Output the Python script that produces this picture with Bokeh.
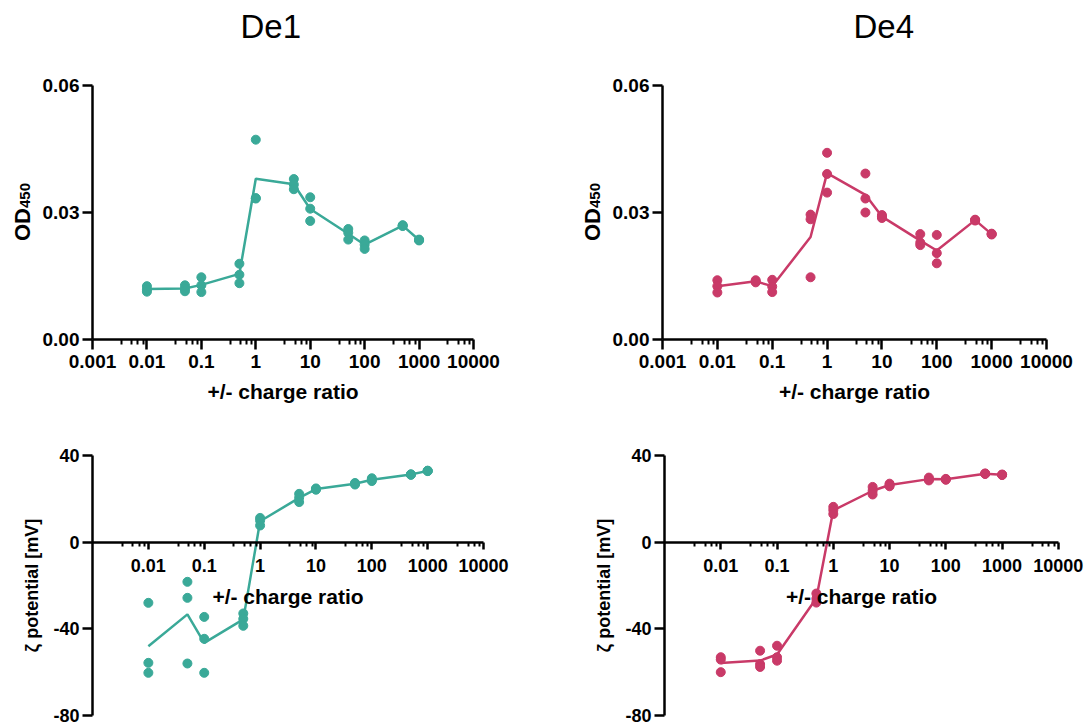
import math
import numpy as np
from bokeh.plotting import figure
from bokeh.models import Range1d, FixedTicker, CustomJSTickFormatter, PrintfTickFormatter, Title, Label
from bokeh.layouts import column, row
from bokeh.embed import file_html
from bokeh.resources import INLINE

# ---------------- data ----------------
ratio = [0.01, 0.05, 0.1, 0.5, 1, 5, 10, 50, 100, 500, 1000]

de1_od = [
    [0.0126, 0.0118, 0.0113],
    [0.0128, 0.0120, 0.0114],
    [0.0147, 0.0128, 0.0112],
    [0.0179, 0.0153, 0.0133],
    [0.0472, 0.0334, 0.0333],
    [0.0379, 0.0366, 0.0355],
    [0.0336, 0.0309, 0.0280],
    [0.0261, 0.0252, 0.0236],
    [0.0234, 0.0224, 0.0214],
    [0.0270, 0.0269, 0.0268],
    [0.0236, 0.0235, 0.0234],
]
de4_od = [
    [0.0140, 0.0126, 0.0111],
    [0.0140, 0.0137, 0.0135],
    [0.0141, 0.0125, 0.0112],
    [0.0295, 0.0284, 0.0147],
    [0.0441, 0.0391, 0.0347],
    [0.0392, 0.0333, 0.0300],
    [0.0294, 0.0290, 0.0287],
    [0.0249, 0.0229, 0.0223],
    [0.0247, 0.0204, 0.0180],
    [0.0283, 0.0282, 0.0281],
    [0.0250, 0.0249, 0.0248],
]
de1_zeta = [
    [-28.0, -55.7, -60.3],
    [-18.3, -25.7, -56.0],
    [-34.5, -44.6, -60.3],
    [-32.9, -35.4, -38.6],
    [11.2, 10.0, 7.7],
    [22.3, 20.5, 18.5],
    [24.8, 24.5, 24.2],
    [27.3, 27.0, 26.6],
    [29.5, 28.8, 28.2],
    [31.3, 31.2, 31.1],
    [33.0, 32.9, 32.8],
]
de4_zeta = [
    [-53.1, -54.2, -60.0],
    [-50.1, -56.3, -57.6],
    [-47.8, -53.1, -54.7],
    [-23.7, -26.1, -27.9],
    [16.3, 14.8, 13.0],
    [25.5, 23.7, 22.0],
    [27.0, 26.4, 25.8],
    [29.8, 29.0, 28.5],
    [29.2, 29.0, 28.8],
    [31.7, 31.6, 31.5],
    [31.2, 31.1, 31.0],
]

x_ticks_top = [0.001, 0.01, 0.1, 1, 10, 100, 1000, 10000]
x_ticks_bottom = [0.01, 0.1, 1, 10, 100, 1000, 10000]
od_ticks = [0, 0.03, 0.06]
zeta_ticks = [-80, -40, 0, 40]

TEAL = "#3aa998"
RED = "#c93a68"
FONT = "Liberation Sans"

minor = [m * 10.0 ** d for d in range(-3, 4) for m in (3.4, 5.3, 6.8, 8.5)]


def style_axes(p, tick_size):
    for ax in (p.xaxis, p.yaxis):
        ax.axis_line_width = 2.5
        ax.axis_line_color = "black"
        ax.major_tick_line_width = 2.5
        ax.major_tick_line_color = "black"
        ax.minor_tick_line_width = 2
        ax.minor_tick_line_color = "black"
        ax.major_tick_in = 0
        ax.major_tick_out = 10
        ax.minor_tick_in = 0
        ax.minor_tick_out = 5
        ax.major_label_text_font = FONT
        ax.major_label_text_font_style = "bold"
        ax.major_label_text_font_size = tick_size
        ax.major_label_text_color = "black"
        ax.axis_label_text_font = FONT
        ax.axis_label_text_font_style = "bold"
        ax.axis_label_text_color = "black"
    p.yaxis.minor_tick_line_color = None
    p.yaxis.major_label_standoff = 3
    p.xaxis.major_label_standoff = 5
    p.xaxis.axis_label_standoff = 9
    p.yaxis.axis_label_standoff = 8


def make(width, height, xr, yr, bl, br, bt, bb, title=None, title_offset=0):
    kw = {}
    if title:
        kw["title"] = title
    p = figure(width=width, height=height, x_axis_type="log",
               x_range=Range1d(*xr), y_range=Range1d(*yr),
               output_backend="svg", toolbar_location=None,
               min_border_left=bl, min_border_right=br,
               min_border_top=bt, min_border_bottom=bb, **kw)
    p.outline_line_color = None
    p.grid.visible = False
    p.background_fill_color = "white"
    p.border_fill_color = "white"
    if title:
        p.title.text_font = FONT
        p.title.text_font_style = "normal"
        p.title.text_font_size = "33px"
        p.title.text_color = "black"
        p.title.align = "left"
        p.title.offset = title_offset
        p.title.standoff = 0
        # blank spacer between the frame and the title
        p.add_layout(Title(text=" ", text_font_size="1px", standoff=38), "above")
    return p


def add_data(p, data, color):
    xs = np.repeat(ratio, [len(r) for r in data])
    ys = np.concatenate([np.array(r) for r in data])
    means = [float(np.mean(r)) for r in data]
    p.line(ratio, means, line_color=color, line_width=2.5)
    p.scatter(xs, ys, size=9, fill_color=color, line_color=color)


def od_panel(width, bl, br, title, off, data, color):
    p = make(width, 420, (0.001, 10000), (0, 0.06), bl, br, 85, 81, title, off)
    add_data(p, data, color)
    style_axes(p, "19px")
    p.xaxis.ticker = FixedTicker(ticks=x_ticks_top, minor_ticks=minor)
    p.xaxis.formatter = CustomJSTickFormatter(code="return tick.toString();")
    p.yaxis.ticker = FixedTicker(ticks=od_ticks)
    p.yaxis.formatter = PrintfTickFormatter(format="%.2f")
    p.xaxis.axis_label = "+/- charge ratio"
    p.xaxis.axis_label_text_font_size = "21px"
    # y title: "OD" with subscript "450"
    p.add_layout(Label(x=8, y=115, x_units="screen", y_units="screen",
                       text="OD", angle=math.pi / 2,
                       text_align="center", text_baseline="middle",
                       text_font=FONT, text_font_style="bold",
                       text_font_size="22px", text_color="black"), "left")
    p.add_layout(Label(x=20.5, y=144, x_units="screen", y_units="screen",
                       text="450", angle=math.pi / 2,
                       text_align="center", text_baseline="middle",
                       text_font=FONT, text_font_style="bold",
                       text_font_size="15px", text_color="black"), "left")
    return p


def zeta_panel(width, bl, br, data, color):
    p = make(width, 306, (0.001, 10 ** 4.5), (-80, 40), bl, br, 35, 11)
    add_data(p, data, color)
    style_axes(p, "18px")
    p.xaxis.fixed_location = 0
    p.xaxis.bounds = (0.001, 10000)
    p.xaxis.major_tick_out = 7
    p.xaxis.minor_tick_out = 4
    p.xaxis.major_label_standoff = 10
    p.xaxis.ticker = FixedTicker(ticks=x_ticks_bottom, minor_ticks=minor)
    p.xaxis.formatter = CustomJSTickFormatter(code="return tick.toString();")
    p.yaxis.ticker = FixedTicker(ticks=zeta_ticks)
    p.yaxis.formatter = PrintfTickFormatter(format="%d")
    p.xaxis.axis_label = "+/- charge ratio"
    p.yaxis.axis_label = "\u03b6 potential [mV]"
    p.xaxis.axis_label_text_font_size = "21px"
    p.yaxis.axis_label_text_font_size = "18px"
    return p


p1 = od_panel(560, 92, 87, "De1", 148, de1_od, TEAL)
p2 = od_panel(528, 102, 42, "De4", 191, de4_od, RED)
p3 = zeta_panel(560, 92, 49, de1_zeta, TEAL)
p4 = zeta_panel(528, 104, 2, de4_zeta, RED)

layout = column(row(p1, p2), row(p3, p4))
open("out.html", "w").write(file_html(layout, INLINE))
